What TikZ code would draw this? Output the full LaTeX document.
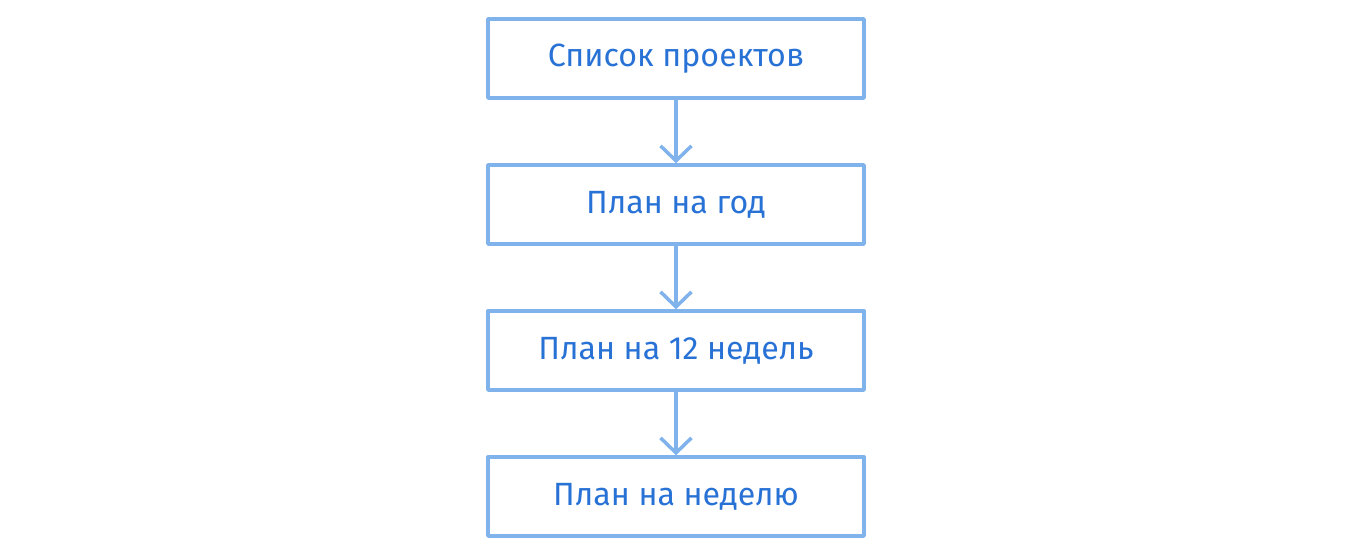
\documentclass[tikz,border=0pt]{standalone}
\usepackage{fontspec}
\setmainfont{Fira Sans}
\usetikzlibrary{arrows.meta,positioning}

\definecolor{boxline}{RGB}{128,178,236}
\definecolor{boxtext}{RGB}{40,114,214}

\tikzset{
  planbox/.style={draw=boxline, line width=2pt, minimum width=7.52cm, minimum height=1.58cm,
    text=boxtext, font=\fontsize{18.3}{22}\selectfont},
  flow/.style={draw=boxline, line width=2pt, -{Straight Barb[length=3mm,width=6.2mm,line width=2pt]}}
}

\begin{document}
\begin{tikzpicture}[node distance=1.27cm, line cap=round, line join=round]
  \useasboundingbox (0,0) rectangle (27.04,-11.1);
  % the four planning levels, top to bottom
  \node[planbox] (projects) at (13.52,-1.17) {Список проектов};
  \node[planbox, below=of projects] (year) {План на год};
  \node[planbox, below=of year] (weeks) {План на 12 недель};
  \node[planbox, below=of weeks] (week) {План на неделю};
  % arrows between them
  \draw[flow] (projects) -- (year);
  \draw[flow] (year) -- (weeks);
  \draw[flow] (weeks) -- (week);
\end{tikzpicture}
\end{document}
